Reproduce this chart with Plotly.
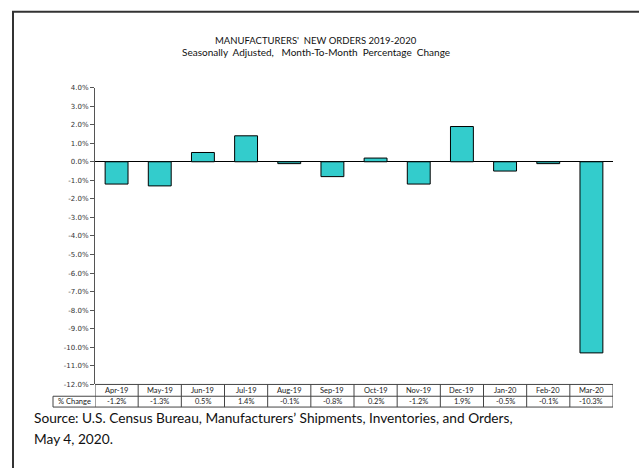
import plotly.graph_objects as go

months = ["Apr-19", "May-19", "Jun-19", "Jul-19", "Aug-19", "Sep-19",
          "Oct-19", "Nov-19", "Dec-19", "Jan-20", "Feb-20", "Mar-20"]
pct_change = [-1.2, -1.3, 0.5, 1.4, -0.1, -0.8, 0.2, -1.2, 1.9, -0.5, -0.1, -10.3]
y_ticks = [4, 3, 2, 1, 0, -1, -2, -3, -4, -5, -6, -7, -8, -9, -10, -11, -12]

W, H = 639, 472


def PX(p):
    return p / W


def PY(p):
    return 1 - p / H


plot_left, plot_right = 95, 613
plot_top, plot_bottom = 85, 387
row1_bot, row2_bot = 399, 410
label_left = 53

fig = go.Figure()
fig.add_trace(go.Bar(
    x=list(range(len(months))), y=pct_change,
    marker=dict(color="#33CCCC", line=dict(color="#000000", width=1)),
    width=0.53, hoverinfo="skip"))

fig.update_layout(
    width=W, height=H, margin=dict(l=0, r=0, t=0, b=0),
    paper_bgcolor="white", plot_bgcolor="white", showlegend=False,
    font=dict(family="DejaVu Sans", color="#222222"),
    xaxis=dict(domain=[PX(plot_left), PX(plot_right)], range=[-0.5, len(months) - 0.5],
               showticklabels=False, showgrid=False, zeroline=False, showline=False,
               ticks="", fixedrange=True),
    yaxis=dict(domain=[PY(plot_bottom), PY(plot_top)], range=[-12, 4],
               tickvals=y_ticks, ticktext=[f"{v:.1f}%" for v in y_ticks],
               tickfont=dict(size=7, family="DejaVu Sans", color="#333333"),
               ticks="outside", ticklen=4, tickcolor="#555555", tickwidth=1,
               showline=True, linecolor="#555555", linewidth=1,
               showgrid=False, zeroline=True, zerolinecolor="#000000", zerolinewidth=1,
               fixedrange=True),
)

shapes = []
# frame (left + top)
shapes.append(dict(type="line", xref="paper", yref="paper", x0=PX(13), x1=PX(13),
                   y0=PY(7), y1=PY(H), line=dict(color="#333333", width=2)))
shapes.append(dict(type="line", xref="paper", yref="paper", x0=PX(12), x1=1,
                   y0=PY(8), y1=PY(8), line=dict(color="#333333", width=2)))
# table horizontal lines
tl = dict(color="#444444", width=1)
shapes.append(dict(type="line", xref="x", yref="paper", x0=-0.5, x1=len(months) - 0.5,
                   y0=PY(plot_bottom), y1=PY(plot_bottom), line=tl))
for yy in (row1_bot, row2_bot):
    shapes.append(dict(type="line", xref="paper", yref="paper", x0=PX(label_left), x1=PX(plot_right),
                       y0=PY(yy), y1=PY(yy), line=tl))
shapes.append(dict(type="line", xref="paper", yref="paper", x0=PX(label_left), x1=PX(label_left),
                   y0=PY(row1_bot), y1=PY(row2_bot), line=tl))
for i in range(len(months) + 1):
    shapes.append(dict(type="line", xref="x", yref="paper", x0=i - 0.5, x1=i - 0.5,
                       y0=PY(plot_bottom), y1=PY(row2_bot), line=tl))
fig.update_layout(shapes=shapes)

cell_font = dict(size=7.5, family="Lato", color="#222222")
ann = []
for i, (m, v) in enumerate(zip(months, pct_change)):
    ann.append(dict(x=i, y=PY((plot_bottom + row1_bot) / 2), xref="x", yref="paper",
                    text=m, showarrow=False, font=cell_font,
                    xanchor="center", yanchor="middle"))
    ann.append(dict(x=i, y=PY((row1_bot + row2_bot) / 2), xref="x", yref="paper",
                    text=f"{v:.1f}%", showarrow=False, font=cell_font,
                    xanchor="center", yanchor="middle"))
ann.append(dict(x=PX((label_left + plot_left) / 2), y=PY((row1_bot + row2_bot) / 2), xref="paper", yref="paper",
                text="% Change", showarrow=False, font=cell_font,
                xanchor="center", yanchor="middle"))
ann.append(dict(x=PX(316), y=PY(37), xref="paper", yref="paper",
                text="MANUFACTURERS'  NEW ORDERS 2019-2020", showarrow=False,
                font=dict(size=9.5, family="Lato", color="#111111"), xanchor="center", yanchor="middle"))
ann.append(dict(x=PX(316), y=PY(49), xref="paper", yref="paper",
                text="Seasonally  Adjusted,   Month-To-Month  Percentage  Change", showarrow=False,
                font=dict(size=10, family="Lato", color="#111111"), xanchor="center", yanchor="middle"))
src_font = dict(size=13.7, family="Lato", color="#111111")
ann.append(dict(x=PX(32), y=PY(421), xref="paper", yref="paper",
                text="Source: U.S. Census Bureau, Manufacturers\u2019 Shipments, Inventories, and Orders,",
                showarrow=False, align="left", font=src_font, xanchor="left", yanchor="middle"))
ann.append(dict(x=PX(32), y=PY(442), xref="paper", yref="paper",
                text="May 4, 2020.",
                showarrow=False, align="left", font=src_font, xanchor="left", yanchor="middle"))
fig.update_layout(annotations=ann)

fig.write_html("out.html", config={"displayModeBar": False},
               post_script="document.body.style.margin='0';document.body.style.overflow='hidden';")
